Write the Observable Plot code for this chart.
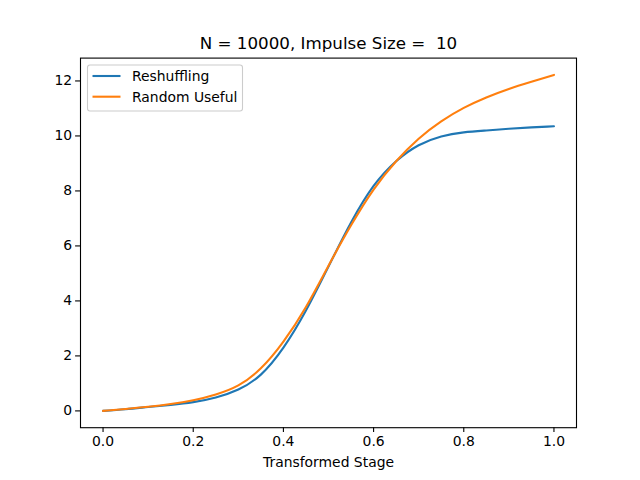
<!DOCTYPE html>
<html>
<head>
<meta charset="utf-8">
<script src="https://cdn.jsdelivr.net/npm/d3@7"></script>
<script src="https://cdn.jsdelivr.net/npm/@observablehq/plot@0.6"></script>
<style>
  body { margin: 0; background: #fff; }
  #chart svg { display: block; }
</style>
</head>
<body>
<div id="chart"></div>
<script>
const stages = [0, 0.05, 0.1, 0.15, 0.2, 0.25, 0.3, 0.35, 0.4, 0.45, 0.5, 0.55, 0.6, 0.65, 0.7, 0.75, 0.8, 0.85, 0.9, 0.95, 1.0];
const reshuffling = [0, 0.06, 0.14, 0.22, 0.32, 0.49, 0.78, 1.32, 2.30, 3.65, 5.25, 6.85, 8.18, 9.08, 9.66, 9.98, 10.13, 10.20, 10.26, 10.31, 10.35];
const randomUseful = [0, 0.07, 0.15, 0.25, 0.39, 0.60, 0.93, 1.55, 2.52, 3.78, 5.28, 6.75, 8.05, 9.08, 9.90, 10.53, 11.02, 11.40, 11.71, 11.97, 12.22];
const seriesNames = ["Reshuffling", "Random Useful"];
const seriesColors = ["#1f77b4", "#ff7f0e"];
const xTicks = [0, 0.2, 0.4, 0.6, 0.8, 1.0];
const yTicks = [0, 2, 4, 6, 8, 10, 12];
const titleText = "N = 10000, Impulse Size =  10";
const xLabel = "Transformed Stage";

const rows = [];
[reshuffling, randomUseful].forEach((vals, i) => {
  vals.forEach((v, j) => rows.push({series: seriesNames[i], x: stages[j], y: v}));
});

const font = "DejaVu Sans, sans-serif";
const chart = Plot.plot({
  width: 640,
  height: 480,
  marginLeft: 80,
  marginRight: 64,
  marginTop: 57.6,
  marginBottom: 52.8,
  style: {fontFamily: font, fontSize: "13.9px", color: "#000", background: "#fff"},
  x: {domain: [-0.05, 1.05]},
  y: {domain: [-0.611, 12.831]},
  color: {domain: seriesNames, range: seriesColors},
  marks: [
    Plot.axisX({ticks: xTicks, tickFormat: d3.format(".1f"), tickSize: 4.9, tickPadding: 3.5, stroke: "#000", strokeWidth: 1.1, fontSize: 13.9, label: xLabel, labelAnchor: "center", labelArrow: "none", labelOffset: 39}),
    Plot.axisY({ticks: yTicks, tickFormat: d => String(d), tickSize: 4.9, tickPadding: 3.5, stroke: "#000", strokeWidth: 1.1, fontSize: 13.9, label: null}),
    Plot.line(rows, {x: "x", y: "y", z: "series", stroke: "series", strokeWidth: 2.1, curve: "natural"}),
    Plot.frame({stroke: "#000", strokeWidth: 1.1}),
    Plot.text([titleText], {text: d => d, frameAnchor: "top", dy: -9, fontSize: 16.7, lineAnchor: "bottom", fill: "#000"})
  ]
});

document.getElementById("chart").appendChild(chart);

// legend (matplotlib style, upper left)
const svg = d3.select(chart);
const g = svg.append("g").attr("font-family", font).attr("font-size", 13.9).attr("text-anchor", "start");
g.append("rect").attr("x", 87.5).attr("y", 65).attr("width", 155).attr("height", 46)
  .attr("rx", 2.5).attr("fill", "#fff").attr("fill-opacity", 0.8).attr("stroke", "#cccccc").attr("stroke-width", 1.1);
seriesNames.forEach((name, i) => {
  const yy = 76 + i * 20.7;
  g.append("line").attr("x1", 92.5).attr("x2", 120.5).attr("y1", yy).attr("y2", yy)
    .attr("stroke", seriesColors[i]).attr("stroke-width", 2.1);
  g.append("text").attr("x", 132).attr("y", yy).attr("dy", "0.35em").attr("text-anchor", "start").attr("fill", "#000").text(name);
});
</script>
</body>
</html>
